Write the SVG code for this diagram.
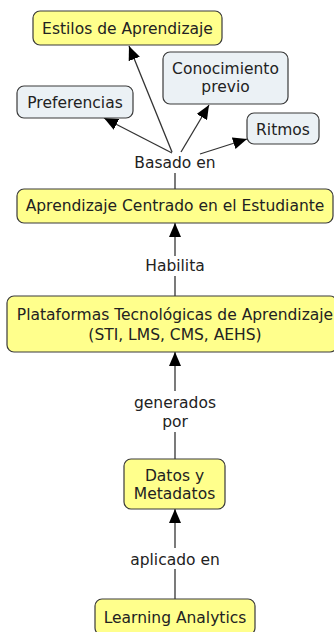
<svg xmlns="http://www.w3.org/2000/svg" width="334" height="632" viewBox="0 0 334 632">
<defs>
<marker id="ah" viewBox="0 0 14 12" refX="14" refY="6" markerWidth="14" markerHeight="12" markerUnits="userSpaceOnUse" orient="auto">
<path d="M0,0 L14,6 L0,12 Z" fill="#000"/>
</marker>
<style>
.y{fill:#ffff8c;stroke:#3a3a3a;stroke-width:1.2}
.b{fill:#ebf1f5;stroke:#3a3a3a;stroke-width:1.2}
text{font-family:"DejaVu Sans",Verdana,sans-serif;font-size:15.5px;fill:#222;text-anchor:middle}
.c{stroke:#333;stroke-width:1.3;fill:none}
.a{marker-end:url(#ah)}
</style>
</defs>
<rect width="334" height="632" fill="#fff"/>
<g id="connectors">
<line class="c a" x1="172" y1="152" x2="129" y2="46"/>
<line class="c a" x1="181" y1="152" x2="209" y2="105"/>
<line class="c a" x1="172" y1="153" x2="104" y2="118"/>
<line class="c a" x1="200" y1="154" x2="247" y2="139"/>
<line class="c" x1="175" y1="173" x2="175" y2="189"/>
<line class="c a" x1="175" y1="256" x2="175" y2="223"/>
<line class="c" x1="175" y1="276" x2="175" y2="296"/>
<line class="c a" x1="175" y1="391" x2="175" y2="352"/>
<line class="c" x1="175" y1="432" x2="175" y2="459"/>
<line class="c a" x1="175" y1="548" x2="175" y2="509"/>
<line class="c" x1="175" y1="569" x2="175" y2="599"/>
<text x="175" y="167.5">Basado en</text>
<text x="175" y="270.5">Habilita</text>
<text x="175" y="407.5">generados</text>
<text x="175" y="426.5">por</text>
<text x="175" y="564.5">aplicado en</text>
</g>
<g id="estilos">
<rect class="y" x="33" y="11" width="189" height="34" rx="7"/>
<text x="127.5" y="33.5">Estilos de Aprendizaje</text>
</g>
<g id="conocimiento">
<rect class="b" x="163" y="52" width="125" height="52" rx="7"/>
<text x="225.5" y="73.5">Conocimiento</text>
<text x="225.5" y="91.5">previo</text>
</g>
<g id="preferencias">
<rect class="b" x="17" y="86" width="116" height="32" rx="7"/>
<text x="75" y="107.5">Preferencias</text>
</g>
<g id="ritmos">
<rect class="b" x="247" y="113" width="72" height="31" rx="7"/>
<text x="283" y="135">Ritmos</text>
</g>
<g id="centrado">
<rect class="y" x="17" y="189" width="316" height="34" rx="7"/>
<text x="175" y="210.5">Aprendizaje Centrado en el Estudiante</text>
</g>
<g id="plataformas">
<rect class="y" x="7" y="296" width="330" height="56" rx="7"/>
<text x="175" y="319.5">Plataformas Tecnológicas de Aprendizaje</text>
<text x="175" y="339.5">(STI, LMS, CMS, AEHS)</text>
</g>
<g id="datos">
<rect class="y" x="124" y="459" width="101" height="50" rx="7"/>
<text x="174.5" y="480.5">Datos y</text>
<text x="174.5" y="498.5">Metadatos</text>
</g>
<g id="learning">
<rect class="y" x="95" y="599" width="160" height="36" rx="7"/>
<text x="175" y="622.5">Learning Analytics</text>
</g>
</svg>
